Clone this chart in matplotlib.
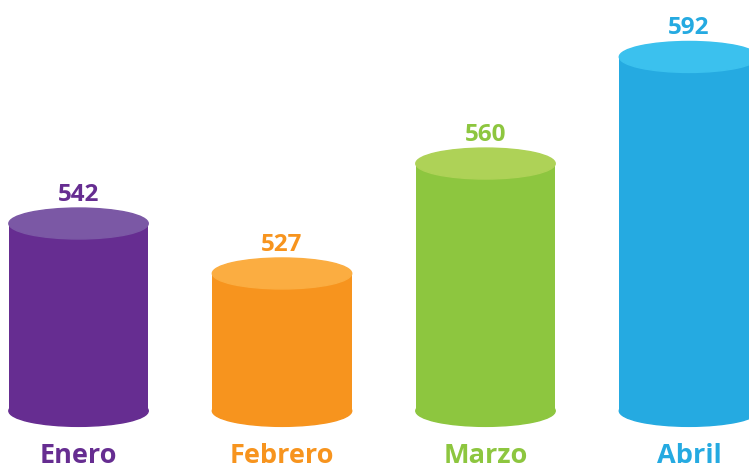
import matplotlib
matplotlib.use('Agg')
import matplotlib.pyplot as plt
from matplotlib.patches import Ellipse
import matplotlib.transforms as mtransforms

# Datos
meses = ['Enero', 'Febrero', 'Marzo', 'Abril']
valores = [542, 527, 560, 592]
color_lado = ['#662D91', '#F7941E', '#8DC63F', '#25AAE1']
color_tapa = ['#7B58A5', '#FBAD41', '#AED257', '#3BC1EE']

base = 485.75      # valor en la base de los cilindros
ancho = 0.685      # ancho de cada cilindro (unidades de x)
alto_elipse = 9.3  # alto de las tapas (unidades de y)

fig = plt.figure(figsize=(7.49, 4.68), dpi=100)
ax = fig.add_axes([0, 0, 1, 1])
ax.set_xlim(-0.386, 3.295)
ax.set_ylim(468.6, 609.1)
ax.axis('off')

trans_lbl = mtransforms.blended_transform_factory(ax.transData, ax.transAxes)

for i, (mes, v) in enumerate(zip(meses, valores)):
    # cuerpo
    ax.bar(i, v - base, bottom=base, width=ancho, color=color_lado[i], zorder=2)
    # base redondeada
    ax.add_patch(Ellipse((i, base), ancho, alto_elipse, color=color_lado[i], zorder=2))
    # tapa
    ax.add_patch(Ellipse((i, v), ancho, alto_elipse, color=color_tapa[i], zorder=3))
    # valor
    ax.annotate(str(v), (i, v), xytext=(0, 16.5), textcoords='offset points',
                ha='center', va='baseline', fontsize=17.5, fontweight='bold',
                color=color_lado[i], family=['Open Sans', 'DejaVu Sans'])
    # mes
    ax.text(i, 1 - 463 / 468, mes, transform=trans_lbl, ha='center', va='baseline',
            fontsize=19.5, fontweight='bold', color=color_lado[i],
            family=['Open Sans', 'DejaVu Sans'])

plt.savefig('out.png', dpi=100)
